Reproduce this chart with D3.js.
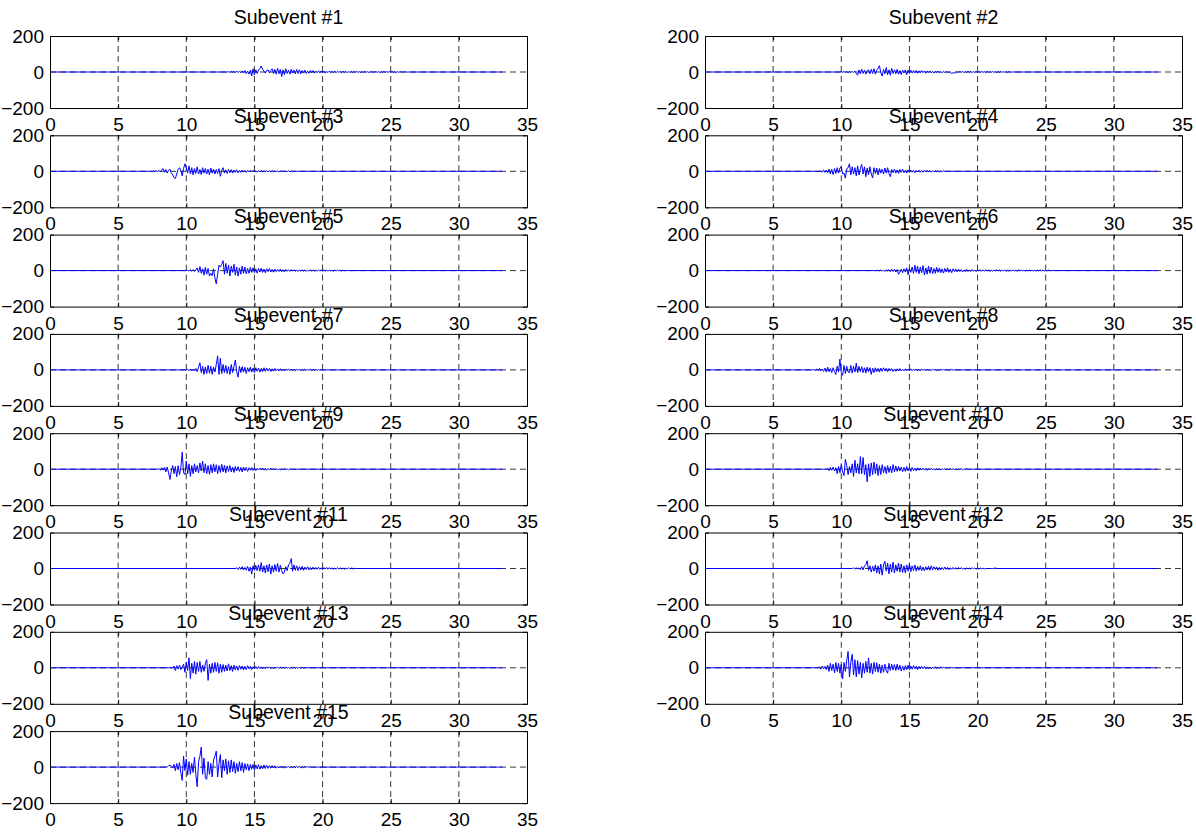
<!DOCTYPE html>
<html><head><meta charset="utf-8">
<script src="https://cdn.jsdelivr.net/npm/d3@7"></script>
<style>body{margin:0;background:#fff}svg{display:block}</style>
</head><body>
<svg id="c" width="1196" height="833"></svg>
<script>
const xTicks=[0,5,10,15,20,25,30,35];
const yTicks=[-200,0,200];
const titles=["Subevent #1","Subevent #2","Subevent #3","Subevent #4","Subevent #5","Subevent #6","Subevent #7","Subevent #8","Subevent #9","Subevent #10","Subevent #11","Subevent #12","Subevent #13","Subevent #14","Subevent #15"];
const onsets=[13.0,9.9,7.3,8.4,10.0,12.6,10.0,7.9,7.9,8.9,13.6,10.8,9.0,8.3,8.6];
const traceEnd=33.2;
const dt=0.1;

const s1=[0,2,-2,3,-1,2,-3,4,-2,3,
-4,6,-5,8,-9,5,-12,10,-22,18,
-15,12,-8,10,20,33,15,5,-6,8,
12,-5,10,18,-8,15,-12,20,-10,14,
-26,12,-15,18,-8,10,-12,15,-6,10,
-10,14,-8,12,-10,8,-6,10,-8,6,
-7,9,-5,8,-6,5,-4,7,-5,6,
-4,5,-6,3,-3,5,-4,3,-3,4,
-3,4,-2,3,-3,4,-2,3,-3,2,
-2,3,-3,2,-2,3,-2,2,-3,2,
-2,3,-2,2,-3,3,-2,2,-2,3,
-2,2,-3,2,-2,3,-2,2,-2,3,
-2,3,-2,2,-3,2,-2,3,-2,2,
-1,2,-1,0];
const s2=[0,
2,-2,3,-2,2,-3,3,-2,3,-3,
5,-8,-18,12,-10,15,-8,10,-12,8,
12,-10,15,-8,18,-12,10,20,35,-5,
-22,15,-10,25,-15,12,-18,20,-8,12,
-10,15,-12,8,-14,10,-6,12,-15,10,
-8,10,-6,8,-5,9,-7,6,-5,8,
-4,6,-7,5,-3,6,-5,4,-6,5,
-3,5,-4,3,-5,4,-3,2,-4,3,
-5,-7,-4,-6,-3,2,-3,4,-2,3,
-3,2,-2,3,-2,4,-3,2,-2,3,
-3,2,-2,3,-2,2,-3,3,-2,2,
-2,3,-2,2,-3,2,-2,3,-2,2,
-2,2,-3,2,-1,0];
const s3=[0,2,-3,4,-2,5,-4,6,-3,
8,15,-5,10,-10,6,12,-8,-20,
-35,-40,-15,10,20,5,-25,15,42,20,
-10,30,-15,20,-20,15,-12,25,-15,10,
-18,20,-10,15,-15,12,-20,18,-10,12,
-15,10,-12,15,-28,5,20,-10,8,-12,
10,-8,9,-10,7,-6,8,-9,5,-6,
7,-5,4,-6,5,-4,6,-3,5,-4,
3,-5,4,-3,5,-4,3,-2,4,-3,
2,-3,4,-2,3,-3,2,-4,3,-2,
3,-2,2,-3,5,-4,2,-2,1,0];
const s4=[0,3,-5,8,-6,7,
-8,12,-15,10,-18,15,-12,20,-10,18,
25,-15,-10,-38,15,20,42,-20,25,-15,
20,-25,30,-20,15,38,-15,25,-30,18,
-20,25,-15,-37,20,-12,18,-20,15,-10,
12,-15,18,-10,20,-12,-30,10,-8,12,
-10,8,-12,10,-6,12,-8,6,-10,8,
-6,7,-5,6,-8,5,-4,6,-5,4,
-5,6,-4,5,-3,4,-5,3,-4,5,
-3,4,-5,3,-2,4,-1,0];
const s5=[0,2,-3,4,-3,5,-4,3,
15,-10,22,-15,10,-25,18,
-20,12,-30,-15,-28,10,-40,-74,-20,30,
20,35,55,-20,40,-15,30,-30,25,-10,
35,-25,20,-30,15,-20,25,-15,20,-18,
12,-15,18,-10,15,-12,10,-14,12,-8,
14,-10,8,-12,10,-6,12,-8,6,-9,
8,-6,7,-5,8,-6,5,-7,6,-4,
5,-4,6,-3,5,-4,3,-5,4,-3,
4,-3,3,-4,2,-3,4,-2,3,-3,
2,-3,4,-2,3,-2,4,-3,2,-3,
3,-2,2,-4,3,-2,3,-2,2,-3,
2,-1,0];
const s6=[0,2,-2,3,-3,2,-4,3,-2,
5,-6,8,-5,7,-8,6,-20,-10,8,
-12,10,-8,15,-22,12,-10,20,-15,30,
-10,25,-18,20,-12,28,-25,15,-20,25,
-15,20,-18,12,-15,18,-10,15,-12,10,
-14,12,-8,15,-10,8,-12,10,-6,8,
-7,8,-5,6,-8,4,-6,7,-5,4,
-5,6,-4,3,-5,4,-3,5,-4,3,
-3,4,-2,3,-4,2,-3,3,-2,4,
-2,3,-3,2,-2,3,-4,2,-3,2,
-2,3,-2,2,-3,4,-2,3,-2,2,
-3,2,-2,3,-2,2,-3,2,-2,3,
-2,3,-2,2,-3,2,-2,3,-1,0];
const s7=[0,3,-4,5,-6,4,-5,8,
-10,15,40,-15,20,-25,15,-20,25,-18,
20,-25,15,-12,30,78,-25,65,-20,30,
-15,25,-20,18,-25,30,-15,20,55,-10,
-40,20,-15,18,-12,15,-20,12,-10,15,
-12,10,-15,12,-8,10,-12,8,-10,12,
-8,10,-6,8,-9,6,-7,8,-5,6,
-6,7,-5,4,-6,5,-3,6,-4,5,
-3,4,-5,3,-2,3,-4,2,-3,4,
-2,3,-2,4,-3,2,-2,3,-4,2,
-2,3,-3,2,-1,0];
const s8=[0,3,-5,6,-4,8,-6,5,-8,
10,-12,15,-10,8,-15,12,-10,
-25,20,-10,60,-15,-30,25,-20,20,-12,
-15,25,-18,20,-12,37,-15,20,-10,18,
-15,12,-18,15,-10,12,-25,10,-15,12,
-10,8,-12,10,-8,12,-6,9,-10,8,
-6,7,-9,5,-8,6,-5,7,-6,4,
-5,6,-4,5,-3,6,-5,4,-3,5,
-4,3,-5,4,-2,3,-4,5,-3,2,
-3,4,-2,3,-4,2,-3,4,-2,3,
-2,3,-3,2,-2,4,-2,1,0];
const s9=[0,4,-6,8,-5,10,
-15,12,-20,-57,-10,20,-25,15,
-42,20,-30,10,95,-20,-30,45,-25,30,
-40,20,-25,30,-15,20,-20,35,-10,45,
-20,30,-25,20,-28,25,-20,30,-15,25,
-25,20,-18,28,-15,22,-20,18,-12,20,
-15,12,-18,15,-10,14,-12,10,-15,12,
-8,10,-12,8,-6,9,-7,6,-8,5,
-5,6,-4,7,-5,4,-6,5,-3,6,
-4,5,-3,4,-5,3,-4,2,-3,4,
-3,2,-4,3,-2,1,0];
const s10=[0,5,-8,10,-6,12,-10,8,
-25,15,-20,25,-15,-35,55,20,
-30,15,-20,30,-40,50,-20,30,-25,70,
-25,65,-30,25,-70,30,-40,35,-30,40,
-25,30,-35,20,-30,25,-20,15,-25,20,
-18,15,-20,25,-15,18,-12,15,-10,12,
-14,10,-12,15,-10,8,-12,10,-8,6,
-10,8,-6,7,-5,6,-4,5,-6,4,
-3,5,-4,3,-5,4,-3,2,-4,3,
-2,4,-3,2,-3,4,-2,3,-2,2,
-3,2,-2,3,-4,2,-2,3,-1,0];
const s11=[0,4,-6,8,-5,10,-8,6,-10,
12,-15,8,-31,15,-10,18,-12,20,-15,
33,-20,15,-25,20,-18,25,-31,15,-20,
22,-15,28,-20,18,-12,-30,-20,10,-12,
20,30,55,-15,20,-10,15,-12,10,-8,
12,-10,8,-6,10,-8,6,-7,8,-5,
6,-4,7,-5,4,-6,5,-3,6,-4,
5,-3,4,-6,3,-4,5,-3,4,-2,
3,-4,2,-3,4,-2,3,-2,2,-1,
0];
const s12=[0,3,-4,5,-3,4,-6,
10,-8,15,20,43,-10,15,-20,12,-15,
20,-25,15,-30,25,-37,20,40,-15,30,
-30,25,-20,35,-25,20,-15,30,-20,25,
-22,15,-25,20,-15,25,-18,15,-12,20,
-15,12,-10,15,-12,8,-14,10,-8,12,
-10,15,-8,10,-6,9,-10,7,-8,6,
-6,8,-5,6,-7,4,-5,6,-4,5,
-4,6,-3,5,-4,3,-5,4,-3,2,
-3,4,-2,3,-4,2,-3,3,-2,2,
-2,0,0,0,0,0,0,0,4,0];
const s13=[0,10,-15,12,-8,15,-10,5,
20,-25,30,-15,55,-60,25,-30,35,-35,
30,-20,35,-25,15,-20,25,45,-70,20,
-30,25,-25,30,-20,28,-30,20,-25,18,
-20,15,-18,22,-15,12,-20,15,-12,10,
-14,12,-8,10,-12,8,-10,12,-6,8,
-10,6,-5,7,-6,8,-4,5,-6,4,
-5,6,-3,5,-4,3,-5,4,-3,5,
-4,3,-2,4,-3,5,-3,2,-4,3,
-2,4,-3,2,-3,2,-2,3,-1,0];
const s14=[0,5,-8,10,-6,8,-10,
15,-20,25,-15,20,-28,30,-20,25,-30,
20,-61,30,-20,40,91,-50,30,75,-40,
45,-50,40,-35,30,-55,25,-30,35,-25,
55,-30,25,-35,30,-20,28,-25,20,-30,
15,-25,20,-18,-30,25,-15,20,-12,18,
-15,20,-12,15,-18,10,-14,12,-10,15,
-12,10,-8,12,-6,9,-10,8,-6,7,
-5,8,-6,5,-7,4,-6,5,-4,6,
-5,4,-3,6,-4,5,-3,4,-5,3,
-2,3,-1,0];
const s15=[0,8,10,5,-5,15,-20,20,-15,25,
-30,-74,61,-20,45,-45,30,-40,20,-30,
55,-40,-109,30,60,111,-40,50,-60,-68,
30,-40,20,-55,40,60,89,-55,20,70,
-59,40,-20,45,-40,35,-30,40,-25,30,
-35,20,-25,30,-20,25,-30,20,-15,18,
-20,15,-12,15,-18,12,-10,14,-12,8,
-10,12,-8,10,-7,8,-6,9,-5,7,
-6,5,-5,6,-4,5,-6,4,-3,5,
-4,3,-4,5,-3,4,-2,3,-4,2,
-3,4,-2,3,-2,4,-3,2,-2,1,0];
const series=[s1,s2,s3,s4,s5,s6,s7,s8,s9,s10,s11,s12,s13,s14,s15];

const svg=d3.select("#c");
const font="'Liberation Sans', Arial, Helvetica, sans-serif";
const colX=[[50,527],[705,1182]];
const rowTop0=36, rowStep=99.3, rowH=72;

series.forEach((vals,i)=>{
  const col=i%2,row=Math.floor(i/2);
  const top=rowTop0+row*rowStep, bot=top+rowH;
  const x=d3.scaleLinear().domain([0,35]).range(colX[col]);
  const y=d3.scaleLinear().domain([-200,200]).range([bot,top]);
  const g=svg.append("g");
  const cid="clip"+i;
  g.append("clipPath").attr("id",cid).append("rect")
    .attr("x",colX[col][0]).attr("y",top).attr("width",colX[col][1]-colX[col][0]).attr("height",rowH);
  // grid
  g.selectAll(".vg").data(xTicks.slice(1,-1)).enter().append("line")
    .attr("x1",d=>x(d)).attr("x2",d=>x(d)).attr("y1",top).attr("y2",bot)
    .attr("stroke","#3a3a3a").attr("stroke-width",1).attr("stroke-dasharray","6,4");
  g.selectAll(".hg").data([0]).enter().append("line")
    .attr("x1",colX[col][0]).attr("x2",colX[col][1]).attr("y1",d=>y(d)).attr("y2",d=>y(d))
    .attr("stroke","#3a3a3a").attr("stroke-width",1).attr("stroke-dasharray","6,4");
  // data
  const t0=onsets[i];
  const pts=[[0,0]].concat(vals.map((v,k)=>[t0+k*dt,v]));
  pts.push([traceEnd,0]);
  g.append("path").datum(pts).attr("clip-path","url(#"+cid+")")
    .attr("fill","none").attr("stroke","#0000ff").attr("stroke-width",1)
    .attr("stroke-linejoin","round")
    .attr("d",d3.line().x(d=>x(d[0])).y(d=>y(d[1])));
  // axes
  const ax=d3.axisBottom(x).tickValues(xTicks).tickSize(-4).tickPadding(0).tickFormat(d3.format("d"));
  const gx=g.append("g").attr("transform","translate(0,"+bot+")").call(ax);
  gx.selectAll("text").attr("dy",null).attr("y",23);
  const axT=d3.axisTop(x).tickValues(xTicks).tickSize(-4).tickFormat("");
  g.append("g").attr("transform","translate(0,"+top+")").call(axT);
  const ay=d3.axisLeft(y).tickValues(yTicks).tickSize(-4).tickPadding(6).tickFormat(d3.format("d"));
  g.append("g").attr("transform","translate("+colX[col][0]+",0)").call(ay);
  const ayR=d3.axisRight(y).tickValues(yTicks).tickSize(-4).tickFormat("");
  g.append("g").attr("transform","translate("+colX[col][1]+",0)").call(ayR);
  g.selectAll(".domain").attr("stroke","#000").attr("stroke-width",1);
  g.selectAll(".tick line").attr("stroke","#000");
  g.selectAll(".tick text").attr("font-family",font).attr("font-size",19).attr("fill","#000");
  g.selectAll(".tick").filter(d=>d===0||d===35||d===200||d===-200).select("line").attr("stroke","none");
  // title
  g.append("text").attr("x",(colX[col][0]+colX[col][1])/2).attr("y",top-12)
    .attr("text-anchor","middle").attr("font-family",font).attr("font-size",19.5).attr("fill","#000")
    .text(titles[i]);
});
</script>
</body></html>
